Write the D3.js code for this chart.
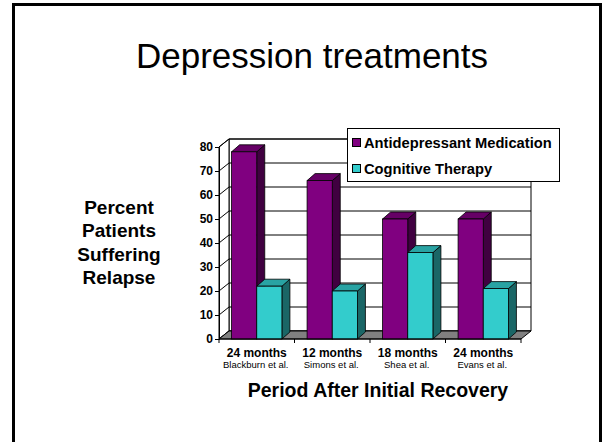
<!DOCTYPE html>
<html>
<head>
<meta charset="utf-8">
<script src="https://cdn.jsdelivr.net/npm/d3@7"></script>
<style>
  html, body { margin: 0; padding: 0; background: #fff; }
  svg { display: block; }
  text { font-family: "Liberation Sans", Arial, sans-serif; fill: #000; }
</style>
</head>
<body>
<svg id="chart" width="602" height="442"></svg>
<script>
// Relapse rates (%) by study
const periods = ["24 months", "12 months", "18 months", "24 months "];
const studies = ["Blackburn et al.", "Simons et al.", "Shea et al.", "Evans et al."];
const seriesNames = ["Antidepressant Medication", "Cognitive Therapy"];
const medication = [78, 66, 50, 50];
const cognitive = [22, 20, 36, 21];
const yTicks = [0, 10, 20, 30, 40, 50, 60, 70, 80];

const svg = d3.select("#chart");

// slide frame
svg.append("rect")
  .attr("x", 13.5).attr("y", 4.5)
  .attr("width", 587).attr("height", 460)
  .attr("fill", "#fff").attr("stroke", "#000").attr("stroke-width", 3);

// title
svg.append("text")
  .attr("x", 312).attr("y", 68)
  .attr("text-anchor", "middle")
  .style("font-size", "35px")
  .text("Depression treatments");

// plot geometry
const plotL = 219, plotR = 521, plotB = 339, plotT = 147;
const depthX = 10, depthY = -8;      // wall depth
const barDX = 8, barDY = -7;         // bar depth

const x0 = d3.scaleBand().domain(periods).range([plotL, plotR]).paddingInner(0).paddingOuter(0);
const x1 = d3.scaleBand().domain(seriesNames).range([0, x0.bandwidth()]).paddingInner(0).paddingOuter(0.5);
const y = d3.scaleLinear().domain([0, 80]).range([plotB, plotT]);

const colors = {
  "Antidepressant Medication": { front: "#800080", top: "#660066", side: "#400040" },
  "Cognitive Therapy": { front: "#33CCCC", top: "#29A3A3", side: "#1A6666" }
};

const g = svg.append("g");

// back wall
g.append("path")
  .attr("d", `M${plotL + depthX},${y(80) + depthY}H${plotR + depthX}V${y(0) + depthY}H${plotL + depthX}Z`)
  .attr("fill", "#fff").attr("stroke", "#000").attr("stroke-width", 1);

// side wall
g.append("path")
  .attr("d", `M${plotL},${y(0)}L${plotL + depthX},${y(0) + depthY}V${y(80) + depthY}L${plotL},${y(80)}Z`)
  .attr("fill", "#fff").attr("stroke", "#000").attr("stroke-width", 1);

// gridlines on back wall and side wall
yTicks.forEach(v => {
  g.append("path")
    .attr("d", `M${plotL},${y(v)}L${plotL + depthX},${y(v) + depthY}H${plotR + depthX}`)
    .attr("fill", "none").attr("stroke", "#000").attr("stroke-width", 1);
});

// floor
g.append("path")
  .attr("d", `M${plotL},${plotB}H${plotR}L${plotR + depthX},${plotB + depthY}H${plotL + depthX}Z`)
  .attr("fill", "#808080").attr("stroke", "#000").attr("stroke-width", 1);

// y axis
const yAxis = d3.axisLeft(y).tickValues(yTicks).tickSize(4).tickPadding(2).tickFormat(d3.format("d"));
const ya = svg.append("g").attr("transform", `translate(${plotL},0)`).call(yAxis);
ya.select(".domain").attr("stroke", "#000");
ya.selectAll(".tick line").attr("stroke", "#000");
ya.selectAll("text")
  .style("font-family", '"Liberation Sans", Arial, sans-serif')
  .style("font-size", "12px").style("font-weight", "bold").attr("fill", "#000");

// x axis (category separators)
const xa = svg.append("g");
xa.append("line").attr("x1", plotL).attr("x2", plotR).attr("y1", plotB).attr("y2", plotB).attr("stroke", "#000");
periods.forEach((p, i) => {
  const xs = x0(p);
  xa.append("line").attr("x1", xs).attr("x2", xs).attr("y1", plotB).attr("y2", plotB + 4).attr("stroke", "#000");
});
xa.append("line").attr("x1", plotR).attr("x2", plotR).attr("y1", plotB).attr("y2", plotB + 4).attr("stroke", "#000");

// bars
const rows = periods.map((p, i) => ({ period: p, values: [medication[i], cognitive[i]] }));
rows.forEach(r => {
  r.values.forEach((v, j) => {
    const s = seriesNames[j];
    const bx = x0(r.period) + x1(s);
    const bw = x1.bandwidth();
    const by = y(v);
    const c = colors[s];
    const bar = g.append("g");
    // side face
    bar.append("path")
      .attr("d", `M${bx + bw},${plotB}L${bx + bw + barDX},${plotB + barDY}V${by + barDY}L${bx + bw},${by}Z`)
      .attr("fill", c.side).attr("stroke", "#000").attr("stroke-width", 0.8);
    // top face
    bar.append("path")
      .attr("d", `M${bx},${by}L${bx + barDX},${by + barDY}H${bx + bw + barDX}L${bx + bw},${by}Z`)
      .attr("fill", c.top).attr("stroke", "#000").attr("stroke-width", 0.8);
    // front face
    bar.append("rect")
      .attr("x", bx).attr("y", by).attr("width", bw).attr("height", plotB - by)
      .attr("fill", c.front).attr("stroke", "#000").attr("stroke-width", 0.8);
  });
});

// category labels
periods.forEach((p, i) => {
  const cx = x0(p) + x0.bandwidth() / 2;
  svg.append("text").attr("x", cx).attr("y", 357).attr("text-anchor", "middle")
    .style("font-size", "12px").style("font-weight", "bold").text(p.trim());
  svg.append("text").attr("x", cx - 1).attr("y", 368).attr("text-anchor", "middle")
    .style("font-size", "9.5px").text(studies[i]);
});

// x axis title
svg.append("text").attr("x", 378).attr("y", 397).attr("text-anchor", "middle")
  .style("font-size", "19.5px").style("font-weight", "bold").text("Period After Initial Recovery");

// y axis title
const yTitle = ["Percent", "Patients", "Suffering", "Relapse"];
svg.append("text").attr("text-anchor", "middle").style("font-size", "19px").style("font-weight", "bold")
  .selectAll("tspan").data(yTitle).join("tspan")
  .attr("x", 119).attr("y", (d, i) => 214 + i * 23.3).text(d => d);

// legend
const lg = svg.append("g");
lg.append("rect").attr("x", 347.5).attr("y", 128.5).attr("width", 212).attr("height", 53)
  .attr("fill", "#fff").attr("stroke", "#000").attr("stroke-width", 1);
seriesNames.forEach((s, i) => {
  const ly = 143 + i * 26;
  lg.append("rect").attr("x", 352.5).attr("y", ly - 4.5).attr("width", 8).attr("height", 8)
    .attr("fill", colors[s].front).attr("stroke", "#000").attr("stroke-width", 1);
  lg.append("text").attr("x", 364).attr("y", ly + 5)
    .style("font-size", "14.7px").style("font-weight", "bold").text(s);
});
</script>
</body>
</html>
